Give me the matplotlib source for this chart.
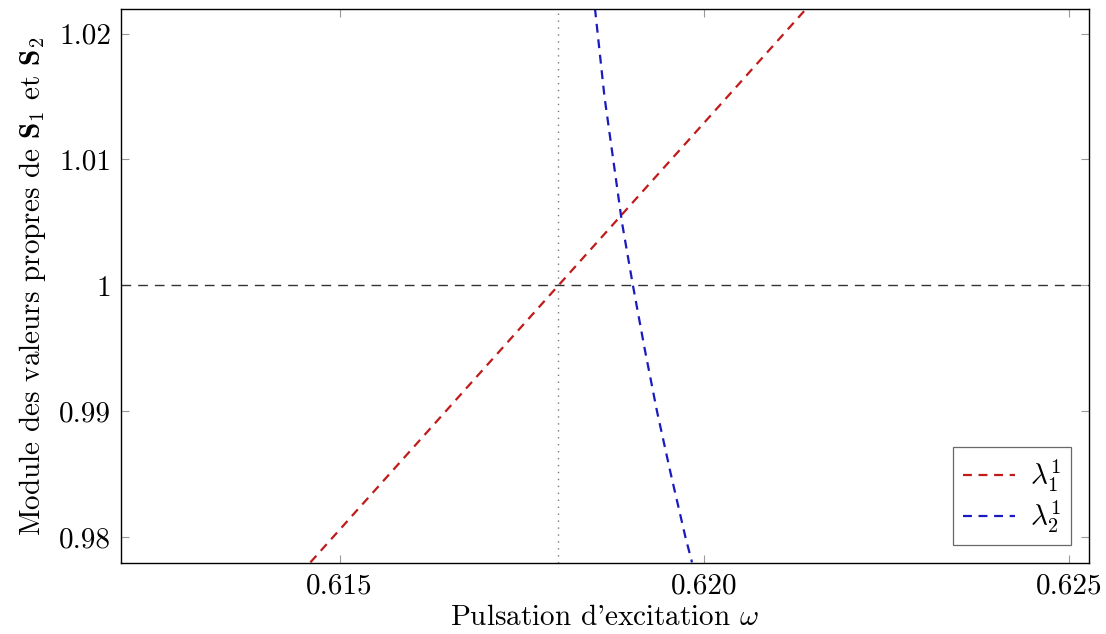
import matplotlib
matplotlib.use('Agg')
import matplotlib.pyplot as plt

plt.rcParams['font.family'] = ['cmr10', 'DejaVu Serif']
plt.rcParams['mathtext.fontset'] = 'cm'
plt.rcParams['axes.formatter.use_mathtext'] = True

# data
red_x = [0.6146, 0.6163, 0.6180, 0.6197, 0.6214]
red_y = [0.978, 0.989, 1.000, 1.011, 1.022]
blue_x = [0.61850, 0.61863, 0.61875, 0.61887, 0.61902, 0.61918, 0.61935,
          0.61954, 0.61974, 0.61983]
blue_y = [1.022, 1.015, 1.010, 1.005, 1.000, 0.995, 0.990, 0.985, 0.980, 0.978]
omega_c = 0.618
x_ticks = [0.615, 0.620, 0.625]
x_labels = ['0.615', '0.620', '0.625']
y_ticks = [0.98, 0.99, 1.00, 1.01, 1.02]
y_labels = ['0.98', '0.99', '1', '1.01', '1.02']

fs = 21
fig = plt.figure(figsize=(11.06, 6.34), dpi=100)
ax = fig.add_axes([0.1091, 0.112, 0.8755, 0.8738])

ax.axvline(omega_c, color='#777777', linestyle=(0, (1, 4)), linewidth=1.0)
ax.axhline(1.0, color='#333333', linestyle=(0, (7, 5)), linewidth=1.0)
ax.plot(red_x, red_y, color='#c01a1a', linestyle=(0, (4, 3)), linewidth=1.6,
        label=r'$\lambda_1^1$')
ax.plot(blue_x, blue_y, color='#1a1ac0', linestyle=(0, (4, 3)), linewidth=1.6,
        label=r'$\lambda_2^1$')

ax.set_xlim(0.612, 0.62527)
ax.set_ylim(0.97795, 1.02195)
ax.set_xticks(x_ticks)
ax.set_xticklabels(x_labels)
ax.set_yticks(y_ticks)
ax.set_yticklabels(y_labels)
ax.tick_params(direction='in', length=6, width=0.8, color='#999999',
               top=True, right=True, labelsize=fs, pad=7)
for s in ax.spines.values():
    s.set_linewidth(1.0)

ax.set_xlabel(r"Pulsation d'excitation $\omega$", fontsize=fs, labelpad=4)
ax.set_ylabel(r'Module des valeurs propres de $\mathbf{S}_1$ et $\mathbf{S}_2$',
              fontsize=fs, labelpad=8)

leg = ax.legend(loc='lower right', fontsize=fs, frameon=True, fancybox=False,
                edgecolor='#444444', handlelength=1.8, handletextpad=0.5,
                borderaxespad=0.6, borderpad=0.35, labelspacing=0.15)
leg.get_frame().set_linewidth(0.9)

fig.savefig('out.png', dpi=100)
